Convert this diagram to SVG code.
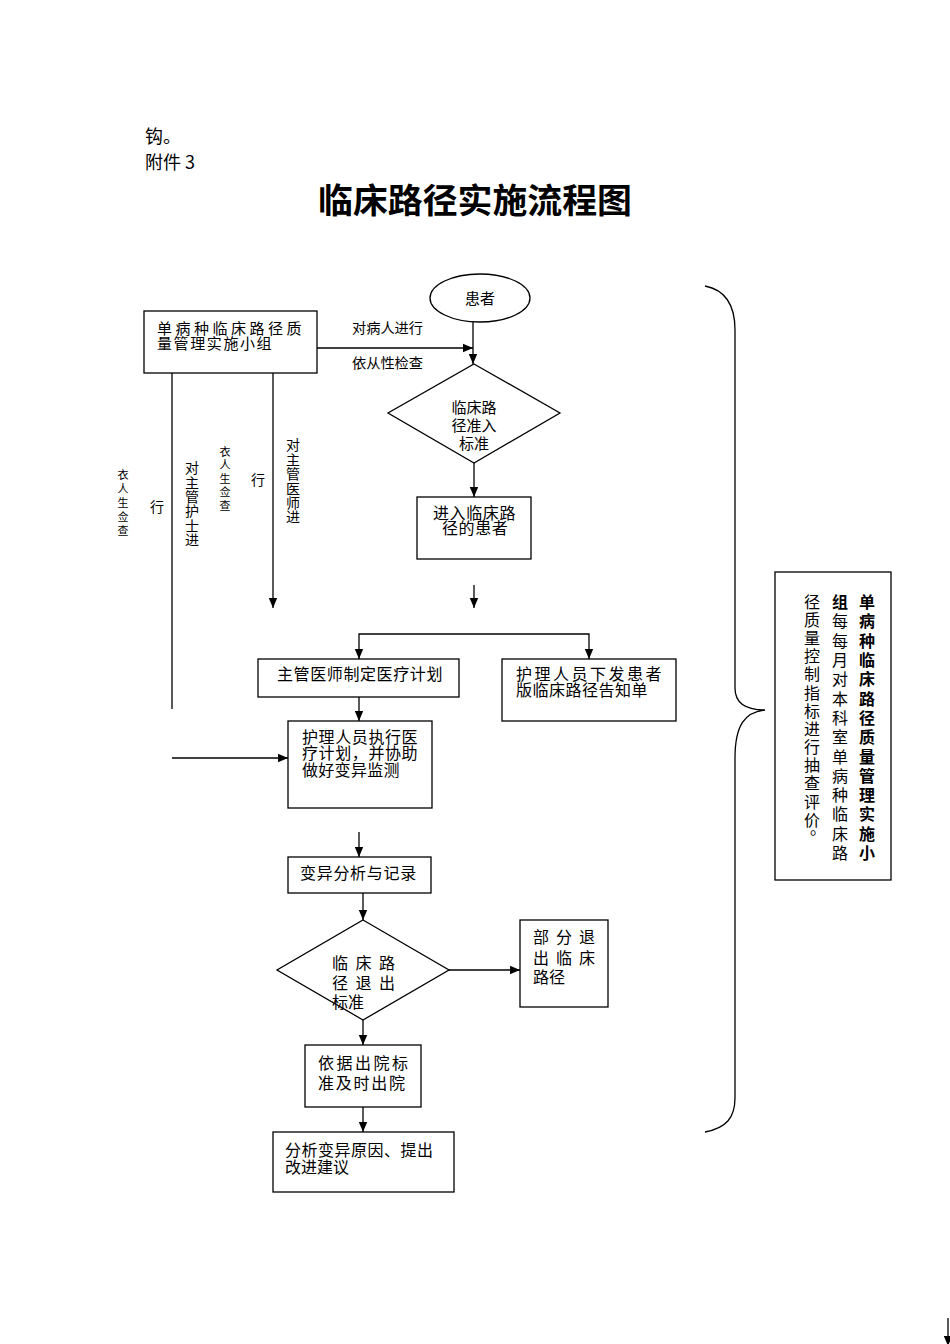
<svg xmlns="http://www.w3.org/2000/svg" width="950" height="1344" viewBox="0 0 950 1344">
<style>
text{font-family:"Noto Sans CJK SC","Noto Sans",sans-serif;fill:#000;}
.t{font-size:16px;}
.m{font-size:15px;}
.s{font-size:14px;}
.xs{font-size:11px;}
.b{font-weight:bold;}
.box{fill:#fff;stroke:#000;stroke-width:1.3;}
.c{fill:none;stroke:#000;stroke-width:1.3;}
.ca{fill:none;stroke:#000;stroke-width:1.3;marker-end:url(#ah);}
</style>
<defs>
<marker id="ah" markerUnits="userSpaceOnUse" markerWidth="10" markerHeight="10" refX="10" refY="5" orient="auto">
<path d="M0,0.8 L10,5 L0,9.2 z" fill="#000"/>
</marker>
</defs>
<rect width="950" height="1344" fill="#fff"/>

<g id="header">
<text x="145" y="143" style="font-size:18px">钩。</text>
<text x="145" y="169" style="font-size:18px">附件 3</text>
<text x="318" y="213" class="b" style="font-size:34px" textLength="314" lengthAdjust="spacingAndGlyphs">临床路径实施流程图</text>
</g>

<g id="connectors">
<path class="ca" d="M317,348 H473"/>
<path class="ca" d="M473,322 V364"/>
<path class="ca" d="M474,463 V497"/>
<path class="ca" d="M474,585 V608"/>
<path class="ca" d="M273,373 V608"/>
<path class="c" d="M172,373 V709"/>
<path class="ca" d="M172,758 H288"/>
<path class="ca" d="M474,634 H359 V659"/>
<path class="ca" d="M474,634 H589 V659"/>
<path class="ca" d="M359,697 V721"/>
<path class="ca" d="M359,832 V857"/>
<path class="ca" d="M363,893 V920"/>
<path class="ca" d="M449,970 H520"/>
<path class="ca" d="M363,1020 V1045"/>
<path class="ca" d="M363,1107 V1132"/>
<path class="ca" d="M948,1318 V1346"/>
<path class="c" d="M705,286 C726,290 735,305 735,330 L735,688 C735,702 745,710 765,710 C745,712 735,725 735,758 L735,1098 C735,1118 726,1128 705,1132"/>
</g>

<g id="edge-labels">
<text x="352" y="333" class="s" textLength="71" lengthAdjust="spacingAndGlyphs">对病人进行</text>
<text x="352" y="368" class="s" textLength="71" lengthAdjust="spacingAndGlyphs">依从性检查</text>
<text class="xs" text-anchor="middle" x="123 123 123 123 123" y="479 493 507 521 535">衣人生佥查</text>
<text class="s" x="157" y="512" text-anchor="middle">行</text>
<text class="s" text-anchor="middle" x="192 192 192 192 192 192" y="473 488 502 516 531 545">对主管护士进</text>
<text class="xs" text-anchor="middle" x="225 225 225 225 225" y="456 469 483 496 510">衣人生佥查</text>
<text class="s" x="258" y="485" text-anchor="middle">行</text>
<text class="s" text-anchor="middle" x="293 293 293 293 293 293" y="450 465 479 494 508 522">对主管医师进</text>
</g>

<g id="n-patient">
<ellipse cx="480" cy="298" rx="50" ry="24" class="box"/>
<text x="480" y="304" class="m" text-anchor="middle">患者</text>
</g>

<g id="n-group">
<rect x="144" y="311" width="173" height="62" class="box"/>
<text class="m"><tspan x="157" y="334" letter-spacing="3.5">单病种临床路径质</tspan><tspan x="157" y="349" letter-spacing="1.6">量管理实施小组</tspan></text>
</g>

<g id="n-admit">
<polygon points="474,364 560,413 474,463 388,413" class="box"/>
<text class="m" text-anchor="middle"><tspan x="474" y="413">临床路</tspan><tspan x="474" y="431">径准入</tspan><tspan x="474" y="449">标准</tspan></text>
</g>

<g id="n-entered">
<rect x="417" y="497" width="114" height="62" class="box"/>
<text class="t"><tspan x="433" y="519" letter-spacing="0.6">进入临床路</tspan><tspan x="442" y="534" letter-spacing="0.6">径的患者</tspan></text>
</g>

<g id="n-doctor">
<rect x="258" y="659" width="201" height="38" class="box"/>
<text x="277" y="680" class="t" letter-spacing="0.6">主管医师制定医疗计划</text>
</g>

<g id="n-notice">
<rect x="502" y="659" width="174" height="62" class="box"/>
<text class="t"><tspan x="516" y="680" letter-spacing="2.5">护理人员下发患者</tspan><tspan x="516" y="696" letter-spacing="0.5">版临床路径告知单</tspan></text>
</g>

<g id="n-execute">
<rect x="288" y="721" width="144" height="87" class="box"/>
<text class="t"><tspan x="302" y="743" letter-spacing="0.6">护理人员执行医</tspan><tspan x="302" y="759" letter-spacing="0.6">疗计划，并协助</tspan><tspan x="302" y="776" letter-spacing="0.3">做好变异监测</tspan></text>
</g>

<g id="n-variance">
<rect x="288" y="857" width="143" height="36" class="box"/>
<text x="300" y="879" class="t" letter-spacing="0.7">变异分析与记录</text>
</g>

<g id="n-exit">
<polygon points="363,920 449,970 363,1020 277,970" class="box"/>
<text class="t"><tspan x="332" y="969" letter-spacing="7.5">临床路</tspan><tspan x="332" y="989" letter-spacing="7.5">径退出</tspan><tspan x="332" y="1008">标准</tspan></text>
</g>

<g id="n-partial">
<rect x="520" y="920" width="88" height="87" class="box"/>
<text class="t"><tspan x="533" y="943" letter-spacing="7">部分退</tspan><tspan x="533" y="964" letter-spacing="7">出临床</tspan><tspan x="533" y="983">路径</tspan></text>
</g>

<g id="n-discharge">
<rect x="305" y="1045" width="116" height="62" class="box"/>
<text class="t"><tspan x="318" y="1069" letter-spacing="2.5">依据出院标</tspan><tspan x="318" y="1089" letter-spacing="1.75">准及时出院</tspan></text>
</g>

<g id="n-analyze">
<rect x="273" y="1132" width="181" height="60" class="box"/>
<text class="t"><tspan x="285" y="1156" letter-spacing="0.5">分析变异原因、提出</tspan><tspan x="285" y="1173">改进建议</tspan></text>
</g>

<g id="n-monitor">
<rect x="775" y="572" width="116" height="308" class="box"/>
<text class="t b" text-anchor="middle" x="867 867 867 867 867 867 867 867 867 867 867 867 867 867" y="608 627 647 666 685 705 724 743 763 782 801 820 840 859">单病种临床路径质量管理实施小</text>
<text class="t" text-anchor="middle" x="840 840 840 840 840 840 840 840 840 840 840 840 840 840" y="608 627 647 666 685 705 724 743 763 782 801 820 840 859"><tspan class="b">组</tspan>每每月对本科室单病种临床路</text>
<text class="t" text-anchor="middle" x="812 812 812 812 812 812 812 812 812 812 812 812 812 818" y="608 626 644 662 680 699 717 735 753 771 789 808 826 834">径质量控制指标进行抽查评价。</text>
</g>
</svg>
